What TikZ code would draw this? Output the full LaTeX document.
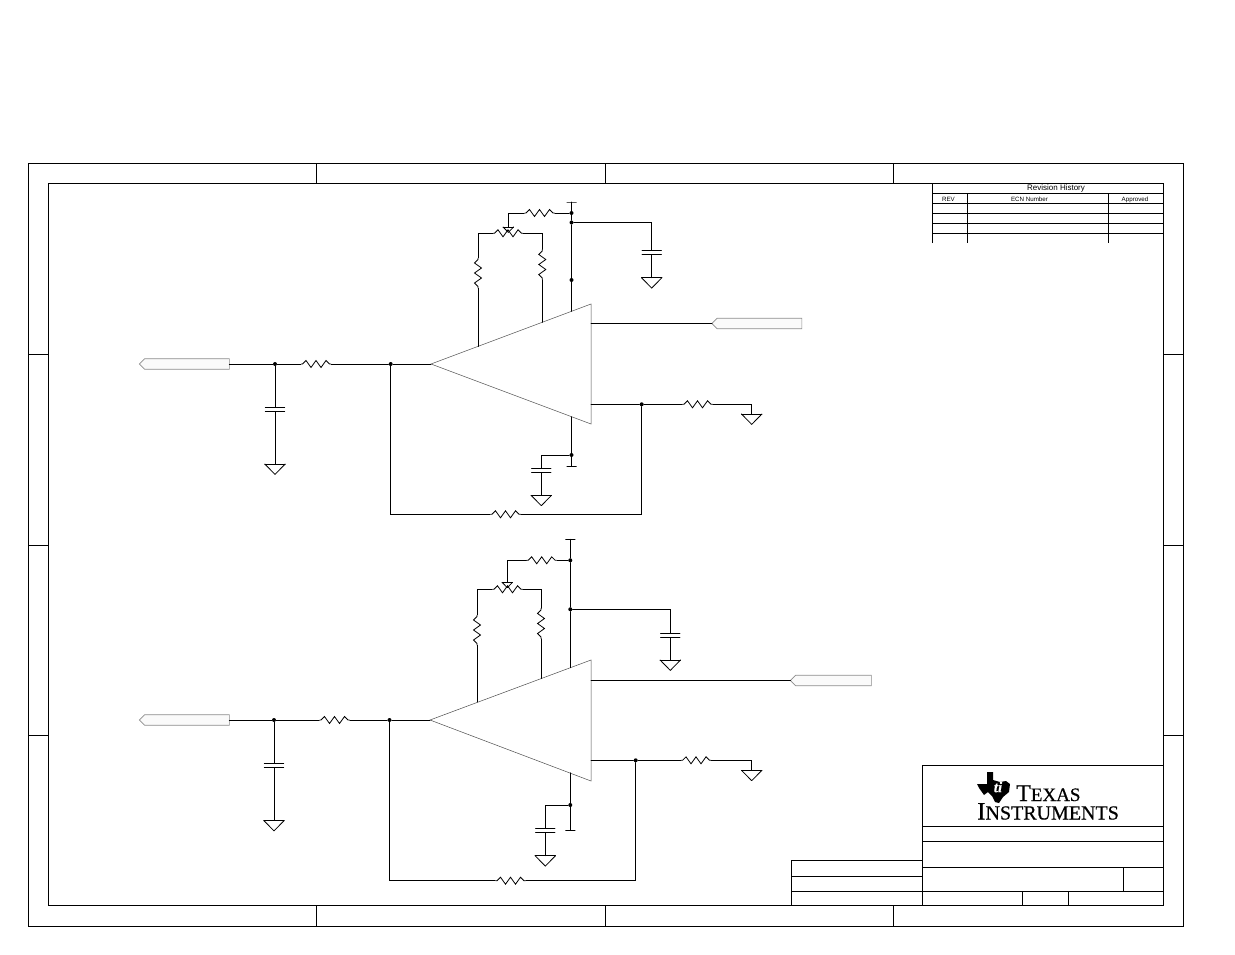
\documentclass[tikz,border=0pt]{standalone}
\usepackage{fontspec}
\setmainfont{Liberation Sans}
\newfontfamily\logofont[FakeBold=0.5]{Liberation Serif}
\usetikzlibrary{shapes.symbols}
\tikzset{
  wire/.style={line width=0.8pt,line cap=round},
  frameline/.style={line width=0.8pt},
  ampline/.style={line width=0.5pt,draw=black!70},
  dot/.style={circle,fill=black,inner sep=0pt,minimum size=4pt},
  res/.style={minimum width=30pt,minimum height=9pt,inner sep=0pt,
    path picture={\draw[wire,shift={(path picture bounding box.center)}]
      (-15,0) -- (-13.5,0) -- (-10,-3.5) -- (-5,3.5) -- (0,-3.5) -- (5,3.5) -- (10,-3.5) -- (13.5,0) -- (15,0);}},
  capac/.style={minimum width=19pt,minimum height=4pt,inner sep=0pt,
    append after command={(\tikzlastnode.north west) edge[wire] (\tikzlastnode.north east)
      (\tikzlastnode.south west) edge[wire] (\tikzlastnode.south east)}},
  tri/.style={anchor=north,inner sep=0pt,
    append after command={(\tikzlastnode.north west) edge[wire] (\tikzlastnode.north east)
      (\tikzlastnode.north west) edge[wire] (\tikzlastnode.south)
      (\tikzlastnode.north east) edge[wire] (\tikzlastnode.south)}},
  gnd/.style={tri,minimum width=20pt,minimum height=10pt},
  wiper/.style={tri,minimum width=10pt,minimum height=5pt},
  tbar/.style={draw,line width=0.8pt,minimum width=10pt,minimum height=0pt,inner sep=0pt,outer sep=0pt},
  tag/.style={signal,signal to=west,draw=black!45,fill=black!2,line width=0.7pt,
    inner sep=0pt,outer sep=0pt,minimum height=10.5pt},
  tabtext/.style={inner sep=0pt,font=\fontsize{6.2}{7}\selectfont},
}
\begin{document}
\begin{tikzpicture}[x=1pt,y=-1pt]
        \useasboundingbox (0,0) rectangle (1235,954);
        % drawing frame
        \draw[frameline] (28,163.5) rectangle (1183,926);
        \draw[frameline] (48,183) rectangle (1163.5,905.5);
        \foreach \x in {316.5,605,893}
        \draw[frameline] (\x,163.5) -- (\x,183) (\x,905.5) -- (\x,926);
        \foreach \y in {354,545,735}
        \draw[frameline] (28,\y) -- (48,\y) (1163.5,\y) -- (1183,\y);
        % revision table
        \draw[frameline] (932,243) -- (932,183);
        \foreach \y in {193,203.5,213.5,223.5,233}
        \draw[frameline] (932,\y) -- (1163.5,\y);
        \foreach \x in {967,1108}
        \draw[frameline] (\x,193) -- (\x,243);
        \node[tabtext,font=\fontsize{8}{9}\selectfont] (revhist) at (1056,188.5) {Revision History};
        \node[tabtext] (revrev) at (948.5,199.7) {REV};
        \node[tabtext] (revecn) at (1029.5,199.7) {ECN Number};
        \node[tabtext] (revapp) at (1135,199.7) {Approved};
        % title block
        \draw[frameline] (922.5,905.5) -- (922.5,765.5) -- (1163.5,765.5);
        \foreach \y in {826,841,867,891}
        \draw[frameline] (922.5,\y) -- (1163.5,\y);
        \draw[frameline] (1123,867) -- (1123,891);
        \draw[frameline] (1022.5,891) -- (1022.5,905.5);
        \draw[frameline] (1068.5,891) -- (1068.5,905.5);
        \draw[frameline] (791,905.5) -- (791,860) -- (922.5,860);
        \draw[frameline] (791,876) -- (922.5,876);
        \draw[frameline] (791,891) -- (922.5,891);
        % logo
        \fill (987,772) -- (993,772) -- (993,780) -- (1000,782) -- (1006,781) -- (1010,784) -- (1009,792)
          -- (1003,797) -- (999,803) -- (995,802) -- (992,796) -- (988,792) -- (984,795) -- (979,788)
          -- (977,784) -- (987,784) -- cycle;
        \node[inner sep=0pt,text=white,font=\logofont\itshape\bfseries\fontsize{15}{15}\selectfont] (logoti) at (998,787) {ti};
        \node[inner sep=0pt,anchor=base west,font=\logofont] (logotexas) at (1016,801)
          {\fontsize{24}{24}\selectfont T\fontsize{19}{19}\selectfont EXAS};
        \node[inner sep=0pt,anchor=base west,font=\logofont] (logoinst) at (977,819.5)
          {\fontsize{25}{25}\selectfont I\fontsize{20}{20}\selectfont NSTRUMENTS};

        % first amplifier
        \coordinate (amp1i) at (431,364);
        \coordinate (amp1t) at (591,304);
        \coordinate (amp1b) at (591,424);
        \draw[ampline] (amp1i) -- (amp1t) -- (amp1b) -- cycle;
        \coordinate (amp1o) at (591,323.5);
        \coordinate (amp1f) at (591,404.3);
        \coordinate (amp1vp) at (571.5,311.3);
        \coordinate (amp1vn) at (571.5,416.7);
        \coordinate (amp1a) at (478,346.4);
        \coordinate (amp1c) at (542.3,322.3);
        % input side
        \node[tag,minimum width=90pt] (in1) at (187,364) {};
        \node[dot] (d1a) at (275,364) {};
        \node[dot] (d1b) at (390.7,364) {};
        \node[res] (r1in) at (316,364) {};
        \node[capac] (c1in) at (275,409.3) {};
        \node[gnd] (g1in) at (275,464) {};
        \draw[wire] (in1.east) -- (d1a) -- (r1in.west);
        \draw[wire] (r1in.east) -- (d1b) -- (amp1i);
        \draw[wire] (d1a) -- (c1in.north);
        \draw[wire] (c1in.south) -- (g1in.north);
        % supply and offset trim
        \node[tbar] (v1p) at (571.5,202) {};
        \node[dot] (d1c) at (571.5,213) {};
        \node[dot] (d1d) at (571.5,222.5) {};
        \node[dot] (d1e) at (571.5,280) {};
        \node[res] (r1top) at (539.5,213) {};
        \node[wiper] (w1) at (508.3,227) {};
        \node[res] (r1pot) at (508,233.3) {};
        \node[res,rotate=90] (r1a) at (478,273) {};
        \node[res,rotate=90] (r1c) at (542.3,264.5) {};
        \node[capac] (c1p) at (651.7,252.5) {};
        \node[gnd] (g1p) at (651.7,277.7) {};
        \draw[wire] (v1p) -- (d1c) -- (d1d) -- (d1e) -- (amp1vp);
        \draw[wire] (d1c) -- (r1top.east);
        \draw[wire] (r1top.west) -| (w1.north);
        \draw[wire] (r1pot.west) -| (r1a.east);
        \draw[wire] (r1pot.east) -| (r1c.east);
        \draw[wire] (r1a.west) -- (amp1a);
        \draw[wire] (r1c.west) -- (amp1c);
        \draw[wire] (d1d) -| (c1p.north);
        \draw[wire] (c1p.south) -- (g1p.north);
        % output and feedback
        \node[tag,minimum width=90pt] (out1) at (759.5,323.5) {};
        \node[dot] (d1f) at (641.7,404.3) {};
        \node[res] (r1g) at (697.5,404.3) {};
        \node[gnd] (g1g) at (751.7,414) {};
        \node[res] (r1f) at (505.5,514.3) {};
        \draw[wire] (amp1o) -- (out1.west);
        \draw[wire] (amp1f) -- (d1f) -- (r1g.west);
        \draw[wire] (r1g.east) -| (g1g.north);
        \draw[wire] (d1f) |- (r1f.east);
        \draw[wire] (r1f.west) -| (d1b);
        % negative supply
        \node[tbar] (v1n) at (571.5,466.3) {};
        \node[dot] (d1g) at (571.5,455) {};
        \node[capac] (c1n) at (541.3,470.3) {};
        \node[gnd] (g1n) at (541.3,495.3) {};
        \draw[wire] (amp1vn) -- (d1g) -- (v1n);
        \draw[wire] (d1g) -| (c1n.north);
        \draw[wire] (c1n.south) -- (g1n.north);

        % second amplifier
        \coordinate (amp2i) at (430,720);
        \coordinate (amp2t) at (591,660);
        \coordinate (amp2b) at (591,781);
        \draw[ampline] (amp2i) -- (amp2t) -- (amp2b) -- cycle;
        \coordinate (amp2o) at (591,680.5);
        \coordinate (amp2f) at (591,760.3);
        \coordinate (amp2vp) at (570.3,667.7);
        \coordinate (amp2vn) at (570.3,772.7);
        \coordinate (amp2a) at (477,702);
        \coordinate (amp2c) at (541,678.5);
        % input side
        \node[tag,minimum width=90pt] (in2) at (187,720) {};
        \node[dot] (d2a) at (274,720) {};
        \node[dot] (d2b) at (389.5,720) {};
        \node[res] (r2in) at (334.5,720) {};
        \node[capac] (c2in) at (274,765.5) {};
        \node[gnd] (g2in) at (274,820.5) {};
        \draw[wire] (in2.east) -- (d2a) -- (r2in.west);
        \draw[wire] (r2in.east) -- (d2b) -- (amp2i);
        \draw[wire] (d2a) -- (c2in.north);
        \draw[wire] (c2in.south) -- (g2in.north);
        % supply and offset trim
        \node[tbar] (v2p) at (570.3,539.3) {};
        \node[dot] (d2c) at (570.3,560.3) {};
        \node[dot] (d2d) at (570.3,609.3) {};
        \node[res] (r2top) at (541.7,560.3) {};
        \node[wiper] (w2) at (507.3,582.3) {};
        \node[res] (r2pot) at (507.5,589.3) {};
        \node[res,rotate=90] (r2a) at (477,630) {};
        \node[res,rotate=90] (r2c) at (541,623.5) {};
        \node[capac] (c2p) at (670.3,635.3) {};
        \node[gnd] (g2p) at (670.3,660) {};
        \draw[wire] (v2p) -- (d2c) -- (d2d) -- (amp2vp);
        \draw[wire] (d2c) -- (r2top.east);
        \draw[wire] (r2top.west) -| (w2.north);
        \draw[wire] (r2pot.west) -| (r2a.east);
        \draw[wire] (r2pot.east) -| (r2c.east);
        \draw[wire] (r2a.west) -- (amp2a);
        \draw[wire] (r2c.west) -- (amp2c);
        \draw[wire] (d2d) -| (c2p.north);
        \draw[wire] (c2p.south) -- (g2p.north);
        % output and feedback
        \node[tag,minimum width=81pt] (out2) at (833.5,680.5) {};
        \node[dot] (d2f) at (635.7,760.3) {};
        \node[res] (r2g) at (696,760.3) {};
        \node[gnd] (g2g) at (751.7,770.3) {};
        \node[res] (r2f) at (510.5,880.7) {};
        \draw[wire] (amp2o) -- (out2.west);
        \draw[wire] (amp2f) -- (d2f) -- (r2g.west);
        \draw[wire] (r2g.east) -| (g2g.north);
        \draw[wire] (d2f) |- (r2f.east);
        \draw[wire] (r2f.west) -| (d2b);
        % negative supply
        \node[tbar] (v2n) at (570.3,830.3) {};
        \node[dot] (d2g) at (570.3,805) {};
        \node[capac] (c2n) at (545.3,830.2) {};
        \node[gnd] (g2n) at (545.3,855.7) {};
        \draw[wire] (amp2vn) -- (d2g) -- (v2n);
        \draw[wire] (d2g) -| (c2n.north);
        \draw[wire] (c2n.south) -- (g2n.north);
\end{tikzpicture}
\end{document}
